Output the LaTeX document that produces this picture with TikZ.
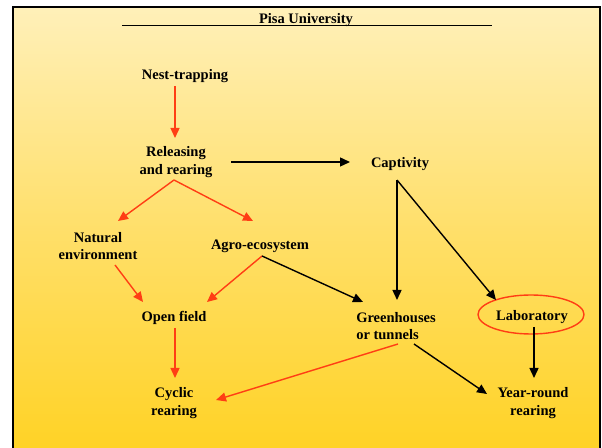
\documentclass[tikz,border=0pt]{standalone}
\usepackage{fontspec}
\setmainfont{Liberation Serif}
\usetikzlibrary{arrows.meta}

\definecolor{flowred}{RGB}{255,62,20}
\definecolor{bgA}{RGB}{255,204,0}
\definecolor{bgB}{RGB}{255,210,35}
\definecolor{bgC}{RGB}{255,223,105}
\definecolor{bgD}{RGB}{255,240,185}
\definecolor{bgE}{RGB}{255,248,222}
\pgfdeclareverticalshading{panelbg}{100bp}{%
  color(0bp)=(bgA);
  color(25bp)=(bgB);
  color(50bp)=(bgC);
  color(75bp)=(bgD);
  color(100bp)=(bgE)}

\tikzset{
  lbl/.style={font=\fontsize{14.5}{17.5}\selectfont\bfseries, align=center, inner sep=2pt},
  redarr/.style={draw=flowred, line width=1.4pt, -{Triangle[length=10pt,width=9pt]}},
  blkarr/.style={draw=black, line width=1.4pt, -{Triangle[length=10pt,width=9pt]}},
}

\begin{document}
\begin{tikzpicture}[x=1pt,y=1pt]
\useasboundingbox (0,0) rectangle (602,447);

% background panel with frame
\begin{scope}
\clip (0,0) rectangle (602,447);
\shade[shading=panelbg] (13,-10) rectangle (600,440);
\draw[line width=2pt] (13,-10) -- (13,440) -- (600,440) -- (600,-10);
\end{scope}

% title
\node[lbl] (title) at (306,427) {Pisa University};
\draw[line width=0.9pt] ([shift={(-184,-5)}]title.center) -- ([shift={(186,-5)}]title.center);

% nodes
\node[lbl] (nest)  at (185,371) {Nest-trapping};
\node[lbl] (rel)   at (176,285) {Releasing\\and rearing};
\node[lbl] (cap)   at (400,283) {Captivity};
\node[lbl] (nat)   at (98,201)  {Natural\\environment};
\node[lbl] (agro)  at (260,201) {Agro-ecosystem};
\node[lbl] (open)  at (174,129) {Open field};
\node[lbl, align=left] (green) at (396,121) {Greenhouses\\or tunnels};
\node[lbl] (lab)   at (532,130) {Laboratory};
\node[lbl] (cyc)   at (174,44)  {Cyclic\\rearing};
\node[lbl] (year)  at (533,44)  {Year-round\\rearing};

\draw[flowred, line width=1.4pt] ([shift={(-1,2.5)}]lab.center) ellipse [x radius=53, y radius=19.5];

% connectors
\draw[redarr] ([shift={(-10,-10)}]nest.center) -- ([shift={(-1,24)}]rel.center);
\draw[blkarr] ([shift={(55,0)}]rel.center) -- ([shift={(-50,2)}]cap.center);
\draw[redarr] ([shift={(-2,-18)}]rel.center) -- ([shift={(20,25)}]nat.center);
\draw[redarr] ([shift={(-2,-18)}]rel.center) -- ([shift={(-7,25)}]agro.center);
\draw[redarr] ([shift={(17,-19)}]nat.center) -- ([shift={(-31,16)}]open.center);
\draw[redarr] ([shift={(2,-10)}]agro.center) -- ([shift={(33,16)}]open.center);
\draw[blkarr] ([shift={(2,-10)}]agro.center) -- ([shift={(-33,24)}]green.center);
\draw[blkarr] ([shift={(-3,-16)}]cap.center) -- ([shift={(1,26)}]green.center);
\draw[blkarr] ([shift={(-3,-16)}]cap.center) -- ([shift={(-36,17)}]lab.center);
\draw[blkarr] ([shift={(2,-10)}]lab.center) -- ([shift={(1,25)}]year.center);
\draw[redarr] ([shift={(1,-10)}]open.center) -- ([shift={(1,25)}]cyc.center);
\draw[redarr] ([shift={(2,-18)}]green.center) -- ([shift={(42,3)}]cyc.center);
\draw[blkarr] ([shift={(18,-18)}]green.center) -- ([shift={(-46,9)}]year.center);
\end{tikzpicture}
\end{document}
